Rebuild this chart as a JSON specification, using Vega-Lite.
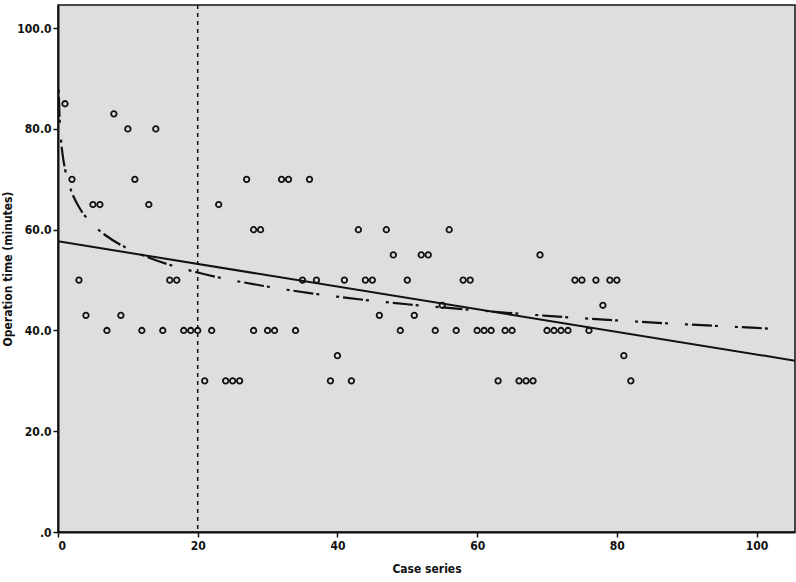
{
  "$schema": "https://vega.github.io/schema/vega-lite/v6.json",
  "width": 737,
  "height": 527,
  "autosize": {"type": "none"},
  "padding": {"left": 58, "top": 5, "right": 1, "bottom": 50},
  "background": "white",
  "config": {
    "view": {"fill": "#dedede", "stroke": "#111", "strokeWidth": 1.5},
    "axis": {
      "grid": false,
      "domainColor": "#111",
      "domainWidth": 2,
      "tickColor": "#111",
      "tickWidth": 1.5,
      "tickSize": 5,
      "labelFont": "DejaVu Sans Condensed, Liberation Sans Narrow, Liberation Sans",
      "labelFontSize": 12,
      "labelFontWeight": "bold",
      "labelColor": "#111",
      "titleFont": "DejaVu Sans Condensed, Liberation Sans Narrow, Liberation Sans",
      "titleFontSize": 12,
      "titleFontWeight": "bold",
      "titleColor": "#111"
    }
  },
  "datasets": {
    "pts": [
      {"case": 1, "time": 85}, {"case": 2, "time": 70}, {"case": 3, "time": 50}, {"case": 4, "time": 43},
      {"case": 5, "time": 65}, {"case": 6, "time": 65}, {"case": 7, "time": 40}, {"case": 8, "time": 83},
      {"case": 9, "time": 43}, {"case": 10, "time": 80}, {"case": 11, "time": 70}, {"case": 12, "time": 40},
      {"case": 13, "time": 65}, {"case": 14, "time": 80}, {"case": 15, "time": 40}, {"case": 16, "time": 50},
      {"case": 17, "time": 50}, {"case": 18, "time": 40}, {"case": 19, "time": 40}, {"case": 20, "time": 40},
      {"case": 21, "time": 30}, {"case": 22, "time": 40}, {"case": 23, "time": 65}, {"case": 24, "time": 30},
      {"case": 25, "time": 30}, {"case": 26, "time": 30}, {"case": 27, "time": 70}, {"case": 28, "time": 60},
      {"case": 28, "time": 40}, {"case": 29, "time": 60}, {"case": 30, "time": 40}, {"case": 31, "time": 40},
      {"case": 32, "time": 70}, {"case": 33, "time": 70}, {"case": 34, "time": 40}, {"case": 35, "time": 50},
      {"case": 36, "time": 70}, {"case": 37, "time": 50}, {"case": 39, "time": 30}, {"case": 40, "time": 35},
      {"case": 41, "time": 50}, {"case": 42, "time": 30}, {"case": 43, "time": 60}, {"case": 44, "time": 50},
      {"case": 45, "time": 50}, {"case": 46, "time": 43}, {"case": 47, "time": 60}, {"case": 48, "time": 55},
      {"case": 49, "time": 40}, {"case": 50, "time": 50}, {"case": 51, "time": 43}, {"case": 52, "time": 55},
      {"case": 53, "time": 55}, {"case": 54, "time": 40}, {"case": 55, "time": 45}, {"case": 56, "time": 60},
      {"case": 57, "time": 40}, {"case": 58, "time": 50}, {"case": 59, "time": 50}, {"case": 60, "time": 40},
      {"case": 61, "time": 40}, {"case": 62, "time": 40}, {"case": 63, "time": 30}, {"case": 64, "time": 40},
      {"case": 65, "time": 40}, {"case": 66, "time": 30}, {"case": 67, "time": 30}, {"case": 68, "time": 30},
      {"case": 69, "time": 55}, {"case": 70, "time": 40}, {"case": 71, "time": 40}, {"case": 72, "time": 40},
      {"case": 73, "time": 40}, {"case": 74, "time": 50}, {"case": 75, "time": 50}, {"case": 76, "time": 40},
      {"case": 77, "time": 50}, {"case": 78, "time": 45}, {"case": 79, "time": 50}, {"case": 80, "time": 50},
      {"case": 81, "time": 35}, {"case": 82, "time": 30}
    ],
    "lin": [
      {"case": 0, "time": 57.7}, {"case": 105.5, "time": 34.0}
    ],
    "logfit": [
      {"case": 0.1, "time": 87.8}, {"case": 0.2, "time": 83.1}, {"case": 0.3, "time": 80.3},
      {"case": 0.5, "time": 76.8}, {"case": 0.75, "time": 74.0}, {"case": 1, "time": 72.05},
      {"case": 1.5, "time": 69.3}, {"case": 2, "time": 67.3}, {"case": 3, "time": 64.5},
      {"case": 4, "time": 62.5}, {"case": 5, "time": 61.0}, {"case": 7, "time": 58.7},
      {"case": 10, "time": 56.25}, {"case": 14, "time": 53.95}, {"case": 20, "time": 51.5},
      {"case": 30, "time": 48.7}, {"case": 40, "time": 46.7}, {"case": 50, "time": 45.2},
      {"case": 60, "time": 44.0}, {"case": 70, "time": 42.9}, {"case": 80, "time": 42.0},
      {"case": 90, "time": 41.2}, {"case": 100, "time": 40.5}, {"case": 104, "time": 40.2}
    ],
    "ref": [{"case": 20}]
  },
  "layer": [
    {
      "data": {"name": "ref"},
      "mark": {"type": "rule", "stroke": "#111", "strokeWidth": 1.5, "strokeDash": [4, 4]},
      "encoding": {
        "x": {"field": "case", "type": "quantitative", "scale": {"domain": [0, 105.5], "nice": false, "zero": false}}
      }
    },
    {
      "data": {"name": "pts"},
      "mark": {"type": "point", "shape": "circle", "filled": false, "stroke": "#111", "strokeWidth": 1.8, "size": 30, "opacity": 1},
      "encoding": {
        "x": {
          "field": "case", "type": "quantitative",
          "scale": {"domain": [0, 105.5], "nice": false, "zero": false},
          "axis": {"values": [0, 20, 40, 60, 80, 100], "title": "Case series", "titlePadding": 12, "labelPadding": 3}
        },
        "y": {
          "field": "time", "type": "quantitative",
          "scale": {"domain": [0, 104.6], "nice": false, "zero": false},
          "axis": {
            "values": [0, 20, 40, 60, 80, 100],
            "labelExpr": "datum.value == 0 ? '.0' : format(datum.value, '.1f')",
            "title": "Operation time (minutes)",
            "titlePadding": 2,
            "labelPadding": 2
          }
        }
      }
    },
    {
      "data": {"name": "lin"},
      "mark": {"type": "line", "stroke": "#111", "strokeWidth": 2, "clip": true},
      "encoding": {
        "x": {"field": "case", "type": "quantitative"},
        "y": {"field": "time", "type": "quantitative"}
      }
    },
    {
      "data": {"name": "logfit"},
      "mark": {"type": "line", "stroke": "#111", "strokeWidth": 2.2, "interpolate": "monotone", "strokeDash": [3, 4, 20, 3, 3, 17]},
      "encoding": {
        "x": {"field": "case", "type": "quantitative"},
        "y": {"field": "time", "type": "quantitative"}
      }
    }
  ]
}
